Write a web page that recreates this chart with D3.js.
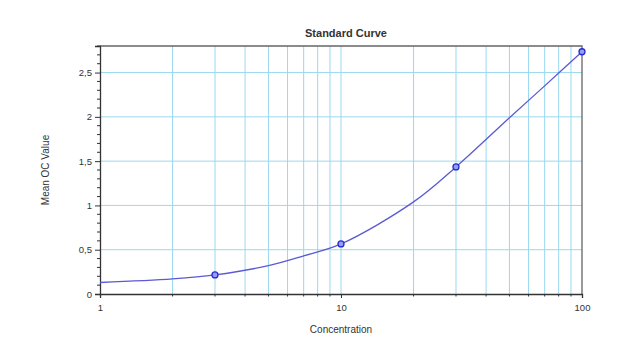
<!DOCTYPE html>
<html lang="en">
<head>
<meta charset="UTF-8">
<title>Standard Curve</title>
<script src="https://d3js.org/d3.v7.min.js"></script>
<style>
    body { margin: 0; background: #fff; font-family: "Liberation Sans", Arial, sans-serif; }
    svg text { fill: #333; }
</style>
</head>
<body>
<svg id="chart"></svg>
<script>
// measured standards
const stdConc = [3, 10, 30, 100];
const stdOD = [0.215, 0.565, 1.435, 2.735];

// fitted curve
const curveConc = [1, 2, 3, 5, 7, 10, 20, 30, 50, 70, 100];
const curveOD = [0.13, 0.17, 0.215, 0.32, 0.43, 0.565, 1.04, 1.435, 1.99, 2.35, 2.735];

const yTicks = [0, 0.5, 1, 1.5, 2, 2.5];
const xLabels = [1, 10, 100];

const width = 638, height = 358;
const m = { left: 100, right: 56, top: 46, bottom: 64 };

const svg = d3.select("#chart").attr("width", width).attr("height", height);

const x = d3.scaleLog().domain([1, 100]).range([m.left, width - m.right]);
const y = d3.scaleLinear().domain([0, 2.8]).range([height - m.bottom, m.top]);

const gridColor = "#9ad8f0";
const xGrid = d3.range(1, 100).filter(v => v > 1 && (v < 10 || v % 10 === 0));

// grid
svg.append("g").selectAll("line").data(xGrid).join("line")
    .attr("x1", d => x(d)).attr("x2", d => x(d))
    .attr("y1", m.top).attr("y2", height - m.bottom)
    .attr("stroke", gridColor).attr("stroke-width", 1);
svg.append("g").selectAll("line").data(yTicks.filter(d => d > 0)).join("line")
    .attr("x1", m.left).attr("x2", width - m.right)
    .attr("y1", d => y(d)).attr("y2", d => y(d))
    .attr("stroke", gridColor).attr("stroke-width", 1);

// frame top/right
svg.append("path")
    .attr("d", `M${m.left},${m.top}H${width - m.right}V${height - m.bottom}`)
    .attr("fill", "none").attr("stroke", "#666").attr("stroke-width", 1.3);

// y axis
const yAxis = svg.append("g").attr("transform", `translate(${m.left},0)`);
yAxis.call(d3.axisLeft(y).tickValues(yTicks).tickSize(5).tickPadding(3)
    .tickFormat(d => String(d).replace(".", ",")));
yAxis.append("g").selectAll("line")
    .data(d3.range(1, 29).map(i => i / 10).filter(v => Math.round(v * 10) % 5 !== 0))
    .join("line")
    .attr("x1", -3).attr("x2", 0)
    .attr("y1", d => y(d)).attr("y2", d => y(d))
    .attr("stroke", "#333");

// x axis
const xAxis = svg.append("g").attr("transform", `translate(0,${height - m.bottom})`);
xAxis.call(d3.axisBottom(x).tickValues(xLabels).tickSize(4).tickPadding(6)
    .tickFormat(d3.format("d")));
xAxis.append("g").selectAll("line").data(xGrid.filter(d => d !== 10)).join("line")
    .attr("x1", d => x(d)).attr("x2", d => x(d))
    .attr("y1", 0).attr("y2", 2.5)
    .attr("stroke", "#333");

[yAxis, xAxis].forEach(a => {
    a.selectAll(".domain").attr("stroke", "#333").attr("stroke-width", 1.3);
    a.selectAll(".tick line").attr("stroke", "#333");
    a.selectAll("text").attr("font-size", 9.5).attr("font-family", "'Liberation Sans', Arial, sans-serif").attr("fill", "#333");
});

// curve
const line = d3.line()
    .x((d, i) => x(curveConc[i]))
    .y(d => y(d))
    .curve(d3.curveCatmullRom.alpha(0.5));
svg.append("path")
    .datum(curveOD)
    .attr("d", line)
    .attr("fill", "none")
    .attr("stroke", "#5a5ad2")
    .attr("stroke-width", 1.3);

// points
svg.append("g").selectAll("circle").data(stdConc).join("circle")
    .attr("cx", d => x(d))
    .attr("cy", (d, i) => y(stdOD[i]))
    .attr("r", 3)
    .attr("fill", "#8fa0f0")
    .attr("stroke", "#2a2ad0")
    .attr("stroke-width", 1.3);

// titles
svg.append("text")
    .attr("x", 346).attr("y", 37)
    .attr("text-anchor", "middle")
    .attr("font-size", 11).attr("font-weight", "bold")
    .text("Standard Curve");

svg.append("text")
    .attr("x", 341).attr("y", 333)
    .attr("text-anchor", "middle")
    .attr("font-size", 10)
    .text("Concentration");

svg.append("text")
    .attr("transform", "translate(49,170) rotate(-90)")
    .attr("text-anchor", "middle")
    .attr("font-size", 10)
    .text("Mean OC Value");
</script>
</body>
</html>
